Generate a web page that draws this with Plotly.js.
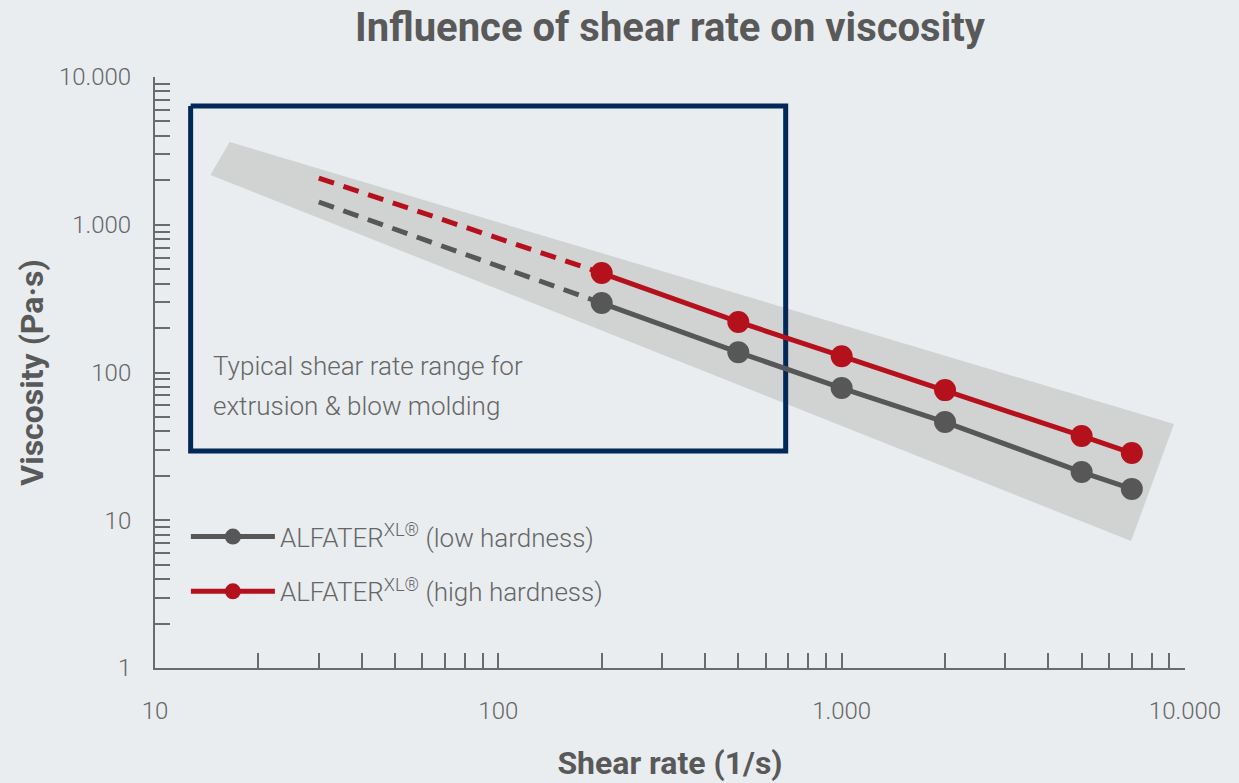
<!DOCTYPE html>
<html>
<head>
<meta charset="utf-8">
<script src="https://cdn.plot.ly/plotly-3.0.1.min.js"></script>
<style>html,body{margin:0;padding:0;background:#e9edf0;}#chart{width:1239px;height:783px;}</style>
</head>
<body>
<div id="chart"></div>
<script>
// Measured series (shear rate in 1/s, viscosity in Pa·s)
const shearRate = [200, 500, 1000, 2000, 5000, 7000];
const viscLow = [295, 137, 78.5, 46.2, 21.2, 16.3];
const viscHigh = [471, 220, 129, 76, 37.2, 28.5];
// Extrapolated (dashed) parts
const shearExtrap = [30, 200];
const viscLowExtrap = [1426, 295];
const viscHighExtrap = [2071, 471];
// Grey band (typical range)
const bandX = [14.5, 16.5, 9290, 6966, 14.5];
const bandY = [2172, 3631, 44.8, 7.24, 2172];
// Processing window rectangle
const boxX = [12.7, 687, 687, 12.7, 12.7];
const boxY = [6365, 6365, 29.4, 29.4, 6365];
// Ticks
const xTickVals = [10,20,30,40,50,60,70,80,90,100,200,300,400,500,600,700,800,900,1000,2000,3000,4000,5000,6000,7000,8000,9000,10000];
const xTickText = ['10','','','','','','','','','100','','','','','','','','','1.000','','','','','','','','','10.000'];
const yTickVals = [1,2,3,4,5,6,7,8,9,10,20,30,40,50,60,70,80,90,100,200,300,400,500,600,700,800,900,1000,2000,3000,4000,5000,6000,7000,8000,9000,10000];
const yTickText = ['1','','','','','','','','','10','','','','','','','','','100','','','','','','','','','1.000','','','','','','','','','10.000'];
const nameLow = 'ALFATER<sup>XL®</sup> (low hardness)';
const nameHigh = 'ALFATER<sup>XL®</sup> (high hardness)';
const boxText1 = 'Typical shear rate range for';
const boxText2 = 'extrusion & blow molding';

const GREY = '#575757';
const RED = '#b5111c';
const NAVY = '#002858';
const TXT = '#666666';
const FONT = 'Roboto, "Liberation Sans", sans-serif';

const traces = [
  {x: bandX, y: bandY, type: 'scatter', mode: 'lines', fill: 'toself', fillcolor: '#d1d3d3', line: {width: 0, color: '#d1d3d3'}, showlegend: false, hoverinfo: 'skip'},
  {x: boxX, y: boxY, type: 'scatter', mode: 'lines', line: {width: 5, color: NAVY}, showlegend: false, hoverinfo: 'skip'},
  {x: shearExtrap, y: viscLowExtrap, type: 'scatter', mode: 'lines', line: {width: 5, color: GREY, dash: '16px,10px'}, showlegend: false},
  {x: shearExtrap, y: viscHighExtrap, type: 'scatter', mode: 'lines', line: {width: 5, color: RED, dash: '16px,10px'}, showlegend: false},
  {x: shearRate, y: viscLow, name: nameLow, legendgroup: 'a', type: 'scatter', mode: 'lines+markers', line: {width: 5, color: GREY}, marker: {size: 22, color: GREY}},
  {x: shearRate, y: viscHigh, name: nameHigh, legendgroup: 'b', type: 'scatter', mode: 'lines+markers', line: {width: 5, color: RED}, marker: {size: 22, color: RED}}
];

const axisCommon = {
  type: 'log', showgrid: false, zeroline: false, showline: true, linecolor: '#6b6b6b', linewidth: 2,
  ticks: 'inside', ticklen: 15, tickwidth: 2, tickcolor: '#6b6b6b', tickmode: 'array',
  tickfont: {family: FONT, size: 24, color: TXT, weight: 300}
};

const layout = {
  width: 1239, height: 783,
  paper_bgcolor: '#e9edf0', plot_bgcolor: '#e9edf0',
  margin: {l: 155, r: 54, t: 77, b: 115},
  title: {text: 'Influence of shear rate on viscosity', font: {family: FONT, size: 40, color: '#595959', weight: 700}, xref: 'paper', x: 0.5, xanchor: 'center', y: 0.965, yanchor: 'middle'},
  xaxis: Object.assign({}, axisCommon, {range: [1, 4], tickvals: xTickVals, ticktext: xTickText, ticklabelstandoff: 20,
    title: {text: 'Shear rate (1/s)', font: {family: FONT, size: 32, color: '#595959', weight: 700}, standoff: 28}}),
  yaxis: Object.assign({}, axisCommon, {range: [0, 4], tickvals: yTickVals, ticktext: yTickText, ticklabelstandoff: 17,
    title: {text: 'Viscosity (Pa·s)', font: {family: FONT, size: 32, color: '#595959', weight: 700}, standoff: 6}}),
  legend: {x: 0.03, y: 0.262, xanchor: 'left', yanchor: 'top', bgcolor: 'rgba(0,0,0,0)', font: {family: FONT, size: 26, color: TXT, weight: 300}, tracegroupgap: 18, itemwidth: 84},
  annotations: [
    {text: boxText1, xref: 'paper', yref: 'paper', x: 0.054, y: 0.511, xanchor: 'left', yanchor: 'middle', showarrow: false, font: {family: FONT, size: 26, color: TXT, weight: 300}},
    {text: boxText2, xref: 'paper', yref: 'paper', x: 0.054, y: 0.443, xanchor: 'left', yanchor: 'middle', showarrow: false, font: {family: FONT, size: 26, color: TXT, weight: 300}}
  ],
  showlegend: true
};

Plotly.newPlot('chart', traces, layout, {displayModeBar: false, staticPlot: true});
</script>
</body>
</html>
